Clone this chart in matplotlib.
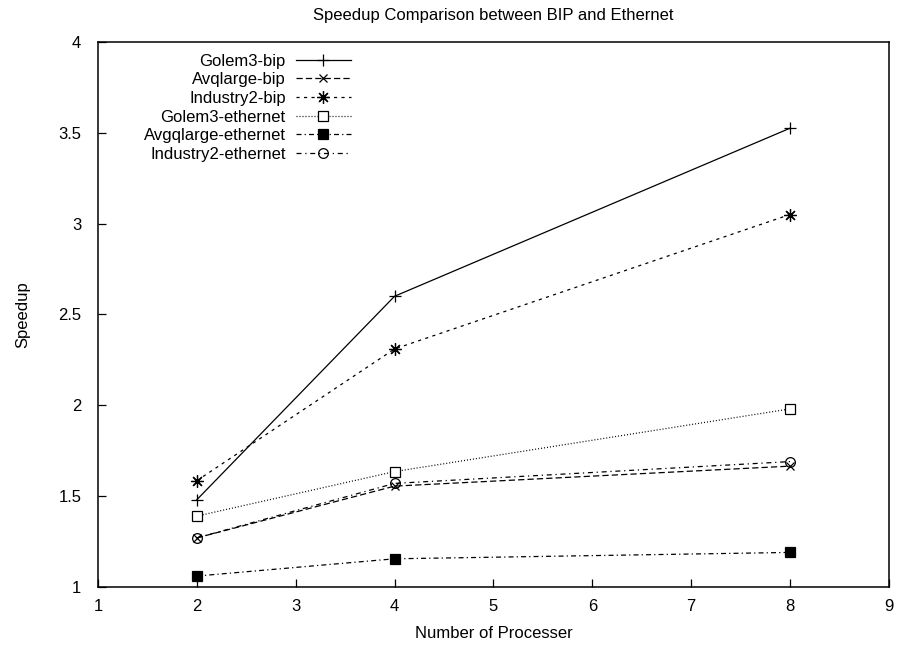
import matplotlib
matplotlib.use("Agg")
from matplotlib import pyplot as plt

plt.rcParams['font.family'] = ['Liberation Sans', 'DejaVu Sans']

processors = [2, 4, 8]
golem3_bip = [1.48, 2.60, 3.525]
avqlarge_bip = [1.27, 1.555, 1.665]
industry2_bip = [1.585, 2.31, 3.05]
golem3_ethernet = [1.39, 1.635, 1.98]
avgqlarge_ethernet = [1.06, 1.155, 1.19]
industry2_ethernet = [1.27, 1.57, 1.69]

xticks = [1, 2, 3, 4, 5, 6, 7, 8, 9]
yticks = [1, 1.5, 2, 2.5, 3, 3.5, 4]

fs = 12

fig = plt.figure(figsize=(9.07, 6.45), dpi=100)
ax = fig.add_axes([0.108, 0.090, 0.872, 0.845])

lw = 0.9
ax.plot(processors, golem3_bip, color='black', lw=lw, ls='-',
        marker='+', ms=8, mew=0.9, label='Golem3-bip')
ax.plot(processors, avqlarge_bip, color='black', lw=lw, ls=(0, (5, 2.5)),
        marker='x', ms=6, mew=0.9, label='Avqlarge-bip')
ax.plot(processors, industry2_bip, color='black', lw=lw, ls=(0, (2.5, 3.5)),
        marker=(8, 2, 0), ms=9, mew=0.9, label='Industry2-bip')
ax.plot(processors, golem3_ethernet, color='black', lw=lw, ls=(0, (0.8, 1.6)),
        marker='s', ms=7, mfc='white', mew=0.9, label='Golem3-ethernet')
ax.plot(processors, avgqlarge_ethernet, color='black', lw=lw, ls=(0, (4, 2.5, 1, 2.5)),
        marker='s', ms=7, mfc='black', mew=0.9, label='Avgqlarge-ethernet')
ax.plot(processors, industry2_ethernet, color='black', lw=lw, ls=(0, (4, 3, 1, 3)),
        marker='o', ms=7, mfc='none', mew=0.9, label='Industry2-ethernet')

ax.set_xlim(1, 9)
ax.set_ylim(1, 4)
ax.set_xticks(xticks)
ax.set_xticklabels([str(v) for v in xticks])
ax.set_yticks(yticks)
ax.set_yticklabels([f'{v:g}' for v in yticks])
ax.tick_params(axis='both', direction='in', length=6, width=0.9, labelsize=fs)
ax.tick_params(axis='y', pad=12)
ax.tick_params(axis='x', pad=9)
for s in ax.spines.values():
    s.set_linewidth(1.1)

ax.set_title('Speedup Comparison between BIP and Ethernet', fontsize=fs, pad=16)
ax.set_xlabel('Number of Processer', fontsize=fs, labelpad=8)
ax.set_ylabel('Speedup', fontsize=fs, labelpad=20)

# gnuplot style key: right-aligned labels followed by the sample
ax.legend(loc='upper left', bbox_to_anchor=(0.043, 1.0), frameon=False,
          markerfirst=False, handlelength=3.3, handletextpad=0.6,
          labelspacing=0.22, fontsize=fs, borderaxespad=0.3)

fig.savefig('out.png', dpi=100)
plt.close(fig)
